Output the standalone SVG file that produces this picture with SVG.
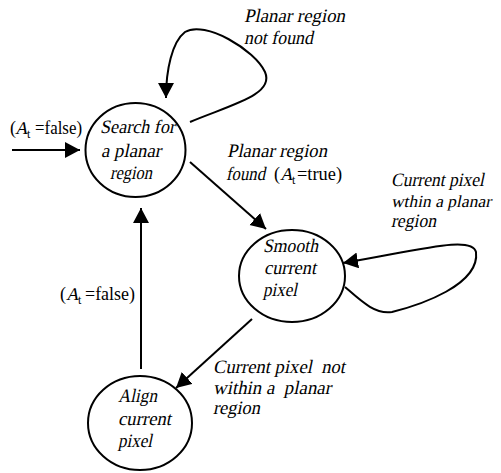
<svg xmlns="http://www.w3.org/2000/svg" width="501" height="473" viewBox="0 0 501 473">
<style>
.node{fill:none;stroke:#000;stroke-width:2}
.edge{fill:none;stroke:#000;stroke-width:2}
text{font-family:'Liberation Serif','Times New Roman',serif;font-size:18px;fill:#000;white-space:pre}
.i{font-size:19px}
.sub{font-size:12px}
</style>
<defs>
<marker id="ah" markerUnits="userSpaceOnUse" markerWidth="16" markerHeight="17" refX="15" refY="8" orient="auto">
<path d="M0,0 L15,8 L0,16 Z" fill="#000"/>
</marker>
</defs>
<rect width="501" height="473" fill="#fff"/>
<g id="connectors">
<path class="edge" d="M12,150 L80,150" marker-end="url(#ah)"/>
<path class="edge" d="M190,122 C230,105 275,95 265,72 C255,50 205,20 185,32 C172,42 166,70 166,98" marker-end="url(#ah)"/>
<path class="edge" d="M190,162 L266,229" marker-end="url(#ah)"/>
<path class="edge" d="M345,287 C360,300 375,315 392,312 C420,305 480,285 476,252 C472,235 420,250 343,263" marker-end="url(#ah)"/>
<path class="edge" d="M252,319 L176,388" marker-end="url(#ah)"/>
<path class="edge" d="M141,369 L141,208" marker-end="url(#ah)"/>
</g>
<g id="search">
<ellipse class="node" cx="135.5" cy="150" rx="50" ry="47"/>
<text class="i" transform="matrix(1,0,-0.21,1,100,133)" textLength="75" lengthAdjust="spacingAndGlyphs">Search for</text>
<text class="i" transform="matrix(1,0,-0.21,1,101,157)" textLength="60" lengthAdjust="spacingAndGlyphs">a planar</text>
<text class="i" transform="matrix(1,0,-0.21,1,110,179)" textLength="42" lengthAdjust="spacingAndGlyphs">region</text>
</g>
<g id="smooth">
<ellipse class="node" cx="292" cy="276" rx="53" ry="46"/>
<text class="i" transform="matrix(1,0,-0.21,1,263,252)" textLength="55" lengthAdjust="spacingAndGlyphs">Smooth</text>
<text class="i" transform="matrix(1,0,-0.21,1,264,274)" textLength="52" lengthAdjust="spacingAndGlyphs">current</text>
<text class="i" transform="matrix(1,0,-0.21,1,263,296)" textLength="34" lengthAdjust="spacingAndGlyphs">pixel</text>
</g>
<g id="align">
<ellipse class="node" cx="140" cy="423" rx="52" ry="47"/>
<text class="i" transform="matrix(1,0,-0.21,1,118,402)" textLength="39" lengthAdjust="spacingAndGlyphs">Align</text>
<text class="i" transform="matrix(1,0,-0.21,1,118,425)" textLength="53" lengthAdjust="spacingAndGlyphs">current</text>
<text class="i" transform="matrix(1,0,-0.21,1,118,447)" textLength="34" lengthAdjust="spacingAndGlyphs">pixel</text>
</g>
<g id="labels">
<text class="i" transform="matrix(1,0,-0.21,1,244,22)" textLength="101" lengthAdjust="spacingAndGlyphs">Planar region</text>
<text class="i" transform="matrix(1,0,-0.21,1,244,44)" textLength="69" lengthAdjust="spacingAndGlyphs">not found</text>
<text x="10" y="134">(</text>
<text transform="matrix(1,0,-0.21,1,15,134)">A</text>
<text class="sub" x="27" y="138">t</text>
<text x="35" y="134" textLength="47" lengthAdjust="spacingAndGlyphs">=false)</text>
<text class="i" transform="matrix(1,0,-0.21,1,227,157)" textLength="100" lengthAdjust="spacingAndGlyphs">Planar region</text>
<text class="i" transform="matrix(1,0,-0.21,1,226,180)" textLength="39" lengthAdjust="spacingAndGlyphs">found</text>
<text x="274" y="180">(</text>
<text transform="matrix(1,0,-0.21,1,280,180)">A</text>
<text class="sub" x="292" y="184">t</text>
<text x="297" y="180" textLength="45" lengthAdjust="spacingAndGlyphs">=true)</text>
<text class="i" transform="matrix(1,0,-0.21,1,391,186)" textLength="93" lengthAdjust="spacingAndGlyphs">Current pixel</text>
<text class="i" style="font-size:17px" transform="matrix(1,0,-0.21,1,391,207)" textLength="100" lengthAdjust="spacingAndGlyphs">wthin a planar</text>
<text class="i" transform="matrix(1,0,-0.21,1,391,227)" textLength="45" lengthAdjust="spacingAndGlyphs">region</text>
<text class="i" transform="matrix(1,0,-0.21,1,213,373)" textLength="132" lengthAdjust="spacingAndGlyphs">Current pixel  not</text>
<text class="i" transform="matrix(1,0,-0.21,1,213,394)" textLength="118" lengthAdjust="spacingAndGlyphs">within a  planar</text>
<text class="i" transform="matrix(1,0,-0.21,1,213,414)" textLength="47" lengthAdjust="spacingAndGlyphs">region</text>
<text x="60" y="300">(</text>
<text transform="matrix(1,0,-0.21,1,66,300)">A</text>
<text class="sub" x="78" y="304">t</text>
<text x="85" y="300" textLength="50" lengthAdjust="spacingAndGlyphs">=false)</text>
</g>
</svg>
